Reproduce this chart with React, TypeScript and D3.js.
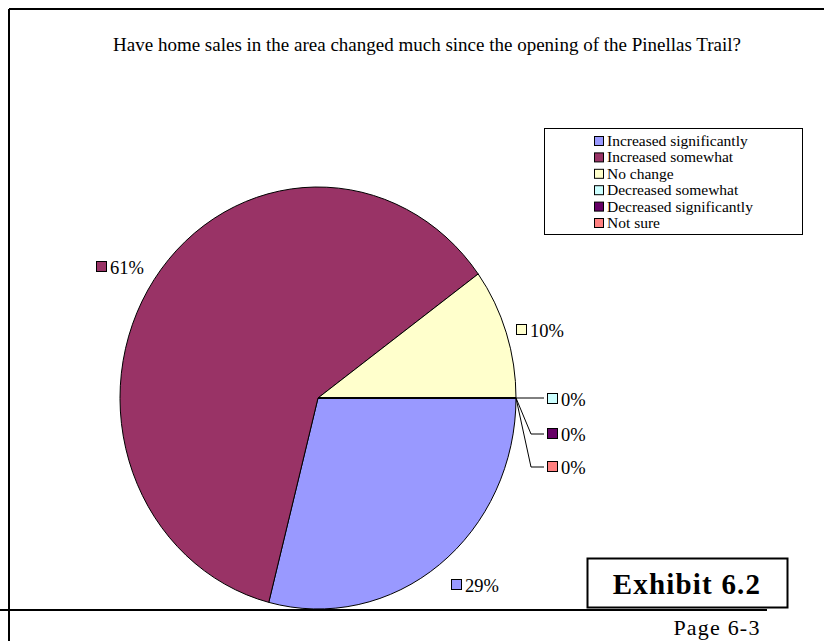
import React from "react";
import * as d3 from "d3";

const categories = [
  "Increased significantly",
  "Increased somewhat",
  "No change",
  "Decreased somewhat",
  "Decreased significantly",
  "Not sure",
];
const values = [29, 61, 10, 0, 0, 0];
const colors = ["#9999FF", "#993366", "#FFFFCC", "#CCFFFF", "#660066", "#FF8080"];
const labels = ["29%", "61%", "10%", "0%", "0%", "0%"];

const W = 824;
const H = 641;
const cx = 318;
const cy = 398;
const rx = 198;
const ry = 211;

export default function App() {
  const pie = d3
    .pie<number>()
    .sort(null)
    .startAngle(Math.PI / 2)
    .endAngle(Math.PI / 2 + 2 * Math.PI)(values);
  const arc = d3.arc<d3.PieArcDatum<number>>().innerRadius(0).outerRadius(rx);
  const sy = ry / rx;
  const font = "'Liberation Serif', 'Times New Roman', serif";

  const labelPos: [number, number][] = [
    [451, 585],
    [96, 267],
    [516, 330],
    [547, 399],
    [547, 434],
    [547, 467],
  ];
  const edgeX = cx + rx;

  return (
    <svg
      width={W}
      height={H}
      style={{ position: "absolute", left: 0, top: 0, background: "#fff" }}
      fontFamily={font}
    >
      <rect x={0} y={0} width={W} height={H} fill="#fff" />
      <line x1={9} y1={9} x2={W} y2={9} stroke="#000" strokeWidth={2} />
      <line x1={9} y1={9} x2={9} y2={H} stroke="#000" strokeWidth={2} />
      <line x1={0} y1={610} x2={767} y2={610} stroke="#000" strokeWidth={2} />

      <text x={427} y={51} fontSize={19} textAnchor="middle">
        Have home sales in the area changed much since the opening of the Pinellas Trail?
      </text>

      <g transform={`translate(${cx},${cy}) scale(1,${sy})`}>
        {pie.map((d, i) => (
          <path
            key={i}
            d={arc(d) || ""}
            fill={colors[i]}
            stroke="#000"
            strokeWidth={1}
            vectorEffect="non-scaling-stroke"
          />
        ))}
      </g>

      <polyline points={`${edgeX},${cy} ${544},${cy}`} fill="none" stroke="#000" strokeWidth={1} />
      <polyline points={`${edgeX},${cy} 531,434 544,434`} fill="none" stroke="#000" strokeWidth={1} />
      <polyline points={`${edgeX},${cy} 531,467 544,467`} fill="none" stroke="#000" strokeWidth={1} />

      {labels.map((t, i) => (
        <g key={i}>
          <rect
            x={labelPos[i][0] + 0.5}
            y={labelPos[i][1] - 5.5}
            width={10}
            height={10}
            fill={colors[i]}
            stroke="#000"
            strokeWidth={1}
          />
          <text x={labelPos[i][0] + 14} y={labelPos[i][1] + 6.5} fontSize={18.5}>
            {t}
          </text>
        </g>
      ))}

      <rect x={544.5} y={128.5} width={258} height={106} fill="#fff" stroke="#000" strokeWidth={1} />
      {categories.map((c, i) => {
        const y = 141 + i * 16.4;
        return (
          <g key={c}>
            <rect x={594.5} y={y - 4.5} width={9} height={9} fill={colors[i]} stroke="#000" strokeWidth={1} />
            <text x={607} y={y + 5} fontSize={15.5}>
              {c}
            </text>
          </g>
        );
      })}

      <rect x={587.5} y={558.5} width={200} height={49} fill="#fff" stroke="#000" strokeWidth={2} />
      <text x={687} y={594} fontSize={29} fontWeight="bold" textAnchor="middle" letterSpacing={1.2}>
        Exhibit 6.2
      </text>
      <text x={717} y={635} fontSize={22} textAnchor="middle" letterSpacing={1.2}>
        Page 6-3
      </text>
    </svg>
  );
}
